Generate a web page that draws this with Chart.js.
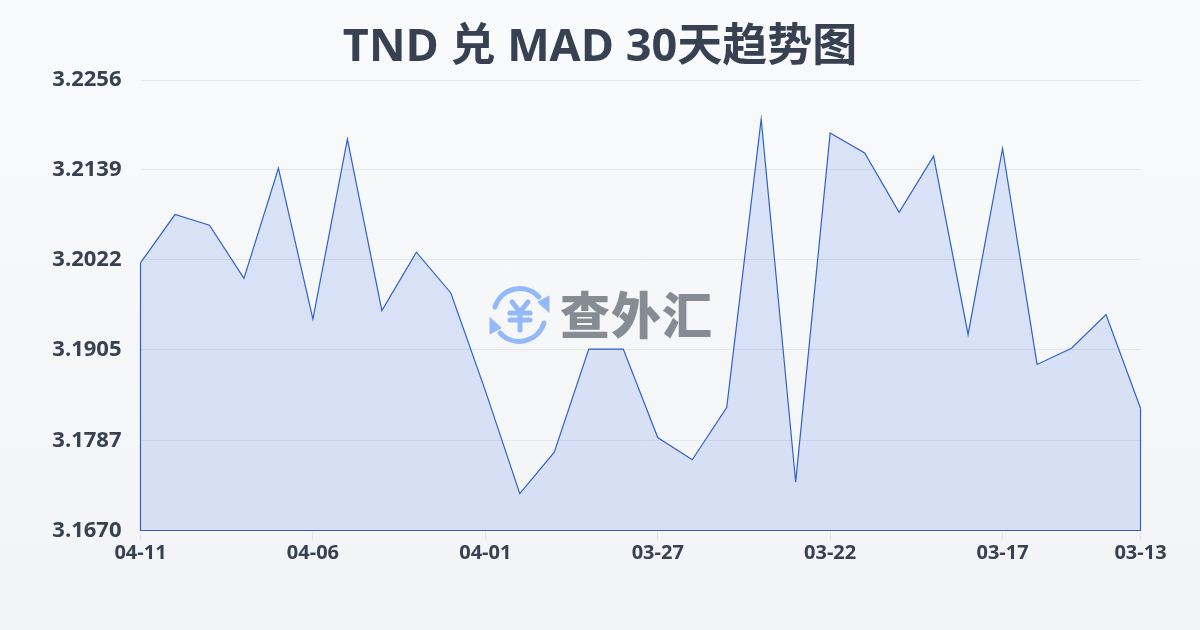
<!DOCTYPE html>
<html lang="zh-CN">
<head>
<meta charset="utf-8">
<title>TND 兑 MAD 30天趋势图</title>
<script src="https://cdn.jsdelivr.net/npm/chart.js@4/dist/chart.umd.min.js"></script>
<style>
  html, body { margin: 0; padding: 0; }
  body { width: 1200px; height: 630px; overflow: hidden; position: relative;
         background: linear-gradient(180deg, #f8fafc 0%, #f3f4f6 100%); }
  #chart_c { position: absolute; left: 0; top: 0; }
  #heading { position: absolute; left: 0; top: 13px; width: 1200px; text-align: center;
             font: 700 45px/62px "Open Sans", "Noto Sans CJK SC", sans-serif; color: #374151; }
  /* logo sits over the plot, same place as the source picture */
  #logo { position: absolute; left: 489px; top: 285px; height: 60px; display: flex; align-items: center; }
  #logo span { font: 900 50px "Noto Sans CJK SC", sans-serif; color: #868b94; margin-left: 10px; letter-spacing: 1px; line-height: 60px; position: relative; top: -3px; }
</style>
</head>
<body>
<canvas id="chart_c" width="1200" height="630"></canvas>
<div id="heading">TND 兑 MAD 30天趋势图</div>
<div id="logo">
  <svg width="61" height="60" viewBox="0 0 61 60" fill="none" stroke="#93b9f8" stroke-linecap="round" stroke-linejoin="round">
    <path d="M6 22 A26 26 0 0 1 50 12" stroke-width="5"/>
    <path d="M49 17 L60 11 L60 27 Z" fill="#93b9f8" stroke="#93b9f8" stroke-width="1"/>
    <path d="M55 38 A26 26 0 0 1 11 48" stroke-width="5"/>
    <path d="M12 43 L1 49 L1 33 Z" fill="#93b9f8" stroke="#93b9f8" stroke-width="1"/>
    <path d="M23 17 L31 27 L39 17 M21 28 H41 M21 35 H41 M31 27 V45" stroke-width="5"/>
  </svg>
  <span>查外汇</span>
</div>
<script>
const categories = ['04-11','04-10','04-09','04-08','04-07','04-06','04-05','04-04','04-03','04-02',
  '04-01','03-31','03-30','03-29','03-28','03-27','03-26','03-25','03-24','03-23',
  '03-22','03-21','03-20','03-19','03-18','03-17','03-16','03-15','03-14','03-13']
const rates = [3.2018,3.2081,3.2067,3.1998,3.2141,3.1945,3.2179,3.1956,3.2032,3.1979,
  3.1852,3.1718,3.1772,3.1906,3.1906,3.1791,3.1762,3.1830,3.2205,3.1733,
  3.2187,3.2161,3.2084,3.2157,3.1925,3.2167,3.1886,3.1907,3.1951,3.1829]
const yTickLabels = [3.2256,3.2139,3.2022,3.1905,3.1787,3.1670]
const xTickLabels = ['04-11','04-06','04-01','03-27','03-22','03-17','03-13']

const textColor = '#374151'
const lineColor = '#2d62c8'

// the source outline also runs down both ends and along the bottom
const closeOutline = {
  id: 'closeOutline',
  afterDatasetsDraw(chart) {
    const pts = chart.getDatasetMeta(0).data
    const bottom = chart.scales.y.bottom
    const first = pts[0], last = pts[pts.length - 1]
    const ctx = chart.ctx
    ctx.save()
    ctx.strokeStyle = lineColor
    ctx.lineWidth = 1.2
    ctx.beginPath()
    ctx.moveTo(first.x, first.y)
    ctx.lineTo(first.x, bottom)
    ctx.lineTo(last.x, bottom)
    ctx.lineTo(last.x, last.y)
    ctx.stroke()
    ctx.restore()
  }
}

new Chart(document.getElementById('chart_c'), {
  type: 'line',
  data: {
    labels: categories,
    datasets: [{
      label: 'TND/MAD',
      data: rates,
      borderColor: lineColor,
      borderWidth: 1.2,
      backgroundColor: 'rgba(65,110,235,0.155)',
      fill: 'start',
      tension: 0,
      pointRadius: 0
    }]
  },
  plugins: [closeOutline],
  options: {
    responsive: false,
    animation: false,
    layout: { padding: { left: 0, right: 59.5, top: 80, bottom: 0 } },
    plugins: {
      legend: { display: false },
      tooltip: { enabled: false },
      title: { display: false }
    },
    scales: {
      x: {
        grid: { color: '#e5e7eb', drawOnChartArea: false, tickLength: 10, tickColor: '#e5e7eb' },
        border: { display: false },
        afterFit: (scale) => { scale.height = 99.5 },
        afterBuildTicks: (scale) => {
          scale.ticks = categories
            .map((c, i) => ({ value: i, label: c }))
            .filter(t => xTickLabels.includes(t.label))
        },
        ticks: {
          autoSkip: false,
          maxRotation: 0,
          padding: 1,
          color: textColor,
          font: { family: '"Open Sans", sans-serif', size: 20, weight: 'bold' },
          callback: (v) => categories[v]
        }
      },
      y: {
        min: yTickLabels[yTickLabels.length - 1],
        max: yTickLabels[0],
        grid: { color: '#e5e7eb', drawTicks: false },
        border: { display: false },
        afterFit: (scale) => { scale.width = 140.5 },
        afterBuildTicks: (scale) => { scale.ticks = yTickLabels.map(v => ({ value: v })) },
        ticks: {
          padding: 19,
          color: textColor,
          font: { family: '"Open Sans", sans-serif', size: 22, weight: 'bold' },
          callback: (v) => v.toFixed(4)
        }
      }
    }
  }
})
</script>
</body>
</html>
